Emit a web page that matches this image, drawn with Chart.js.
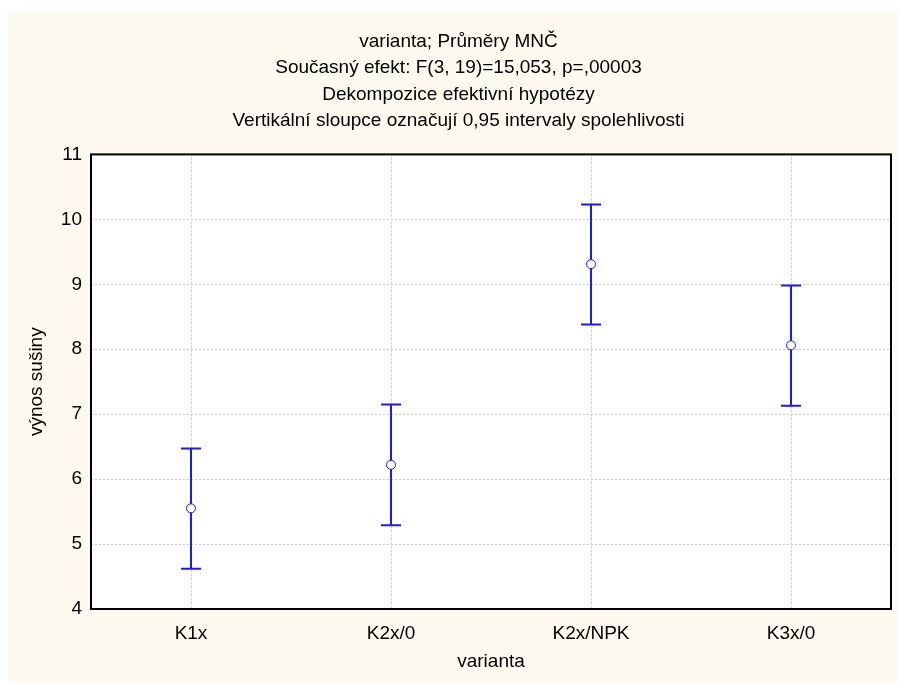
<!DOCTYPE html>
<html>
<head>
<meta charset="utf-8">
<script src="https://cdn.jsdelivr.net/npm/chart.js@4"></script>
<style>
  html, body { margin: 0; padding: 0; background: #ffffff; }
  #wrap { width: 898px; height: 684px; }
</style>
</head>
<body>
<div id="wrap"><canvas id="chart" width="898" height="684"></canvas></div>
<script>
const categories = ['K1x', 'K2x/0', 'K2x/NPK', 'K3x/0'];
const means = [5.55, 6.22, 9.31, 8.06];
const lower = [4.62, 5.29, 8.38, 7.13];
const upper = [6.47, 7.15, 10.23, 8.98];
const yTicks = [4, 5, 6, 7, 8, 9, 10, 11];
const titleLines = [
    'varianta; Průměry MNČ',
    'Současný efekt: F(3, 19)=15,053, p=,00003',
    'Dekompozice efektivní hypotézy',
    'Vertikální sloupce označují 0,95 intervaly spolehlivosti'
];

const blue = '#1a1af2';
const font = 'Liberation Sans, Arial, sans-serif';

// cream page background with white strip top/left, white plot area
const backgroundPlugin = {
    id: 'background',
    afterLayout(chart) {
        // title is centred a little right of the canvas centre
        chart.titleBlock.left = 26;
    },
    beforeDraw(chart) {
        const { ctx, chartArea: a } = chart;
        ctx.save();
        ctx.fillStyle = '#ffffff';
        ctx.fillRect(0, 0, chart.width, chart.height);
        ctx.fillStyle = '#fffaf0';
        ctx.fillRect(8, 12, chart.width - 8, chart.height - 12);
        ctx.fillStyle = '#ffffff';
        ctx.fillRect(a.left, a.top, a.right - a.left, a.bottom - a.top);
        ctx.restore();
    },
    afterDraw(chart) {
        const { ctx, chartArea: a } = chart;
        ctx.save();
        ctx.strokeStyle = '#000000';
        ctx.lineWidth = 2;
        ctx.strokeRect(a.left, a.top, a.right - a.left, a.bottom - a.top);
        ctx.restore();
    }
};

// whiskers for the confidence intervals
const errorBarPlugin = {
    id: 'errorBars',
    beforeDatasetsDraw(chart) {
        const { ctx, scales: { x, y } } = chart;
        ctx.save();
        ctx.strokeStyle = blue;
        ctx.lineWidth = 2;
        categories.forEach((c, i) => {
            const px = x.getPixelForValue(i);
            const top = y.getPixelForValue(upper[i]);
            const bot = y.getPixelForValue(lower[i]);
            ctx.beginPath();
            ctx.moveTo(px, top);
            ctx.lineTo(px, bot);
            ctx.moveTo(px - 10, top);
            ctx.lineTo(px + 10, top);
            ctx.moveTo(px - 10, bot);
            ctx.lineTo(px + 10, bot);
            ctx.stroke();
        });
        ctx.restore();
    }
};

new Chart(document.getElementById('chart').getContext('2d'), {
    type: 'line',
    data: {
        labels: categories,
        datasets: [{
            data: means,
            showLine: false,
            pointStyle: 'circle',
            pointRadius: 4.5,
            pointBorderWidth: 1,
            pointBorderColor: blue,
            pointBackgroundColor: '#ffffff'
        }]
    },
    options: {
        responsive: false,
        animation: false,
        layout: { padding: { top: 12, left: 8, right: 7, bottom: 0 } },
        plugins: {
            legend: { display: false },
            tooltip: { enabled: false },
            title: {
                display: true,
                text: titleLines,
                color: '#000000',
                font: { family: font, size: 19, weight: 'normal', lineHeight: 1.4 },
                padding: { top: 16, bottom: 20 }
            }
        },
        scales: {
            x: {
                offset: true,
                grid: { offset: false, color: '#c8c8c8', lineWidth: 1, drawTicks: false },
                border: { display: false, dash: [2, 2] },
                ticks: { color: '#000000', font: { family: font, size: 19 }, padding: 13 },
                title: {
                    display: true, text: 'varianta', color: '#000000',
                    font: { family: font, size: 19 }, padding: { top: 4, bottom: 11 }
                },
                afterFit(scale) { scale.height = 75; }
            },
            y: {
                min: 4,
                max: 11,
                afterBuildTicks(scale) { scale.ticks = yTicks.map(v => ({ value: v })); },
                grid: { color: '#c8c8c8', lineWidth: 1, drawTicks: false },
                border: { display: false, dash: [2, 2] },
                ticks: { color: '#000000', font: { family: font, size: 19 }, padding: 9 },
                title: {
                    display: true, text: 'výnos sušiny', color: '#000000',
                    font: { family: font, size: 19 }, padding: { top: 17, bottom: 4 }
                },
                afterFit(scale) { scale.width = 83; }
            }
        }
    },
    plugins: [backgroundPlugin, errorBarPlugin]
});
</script>
</body>
</html>
